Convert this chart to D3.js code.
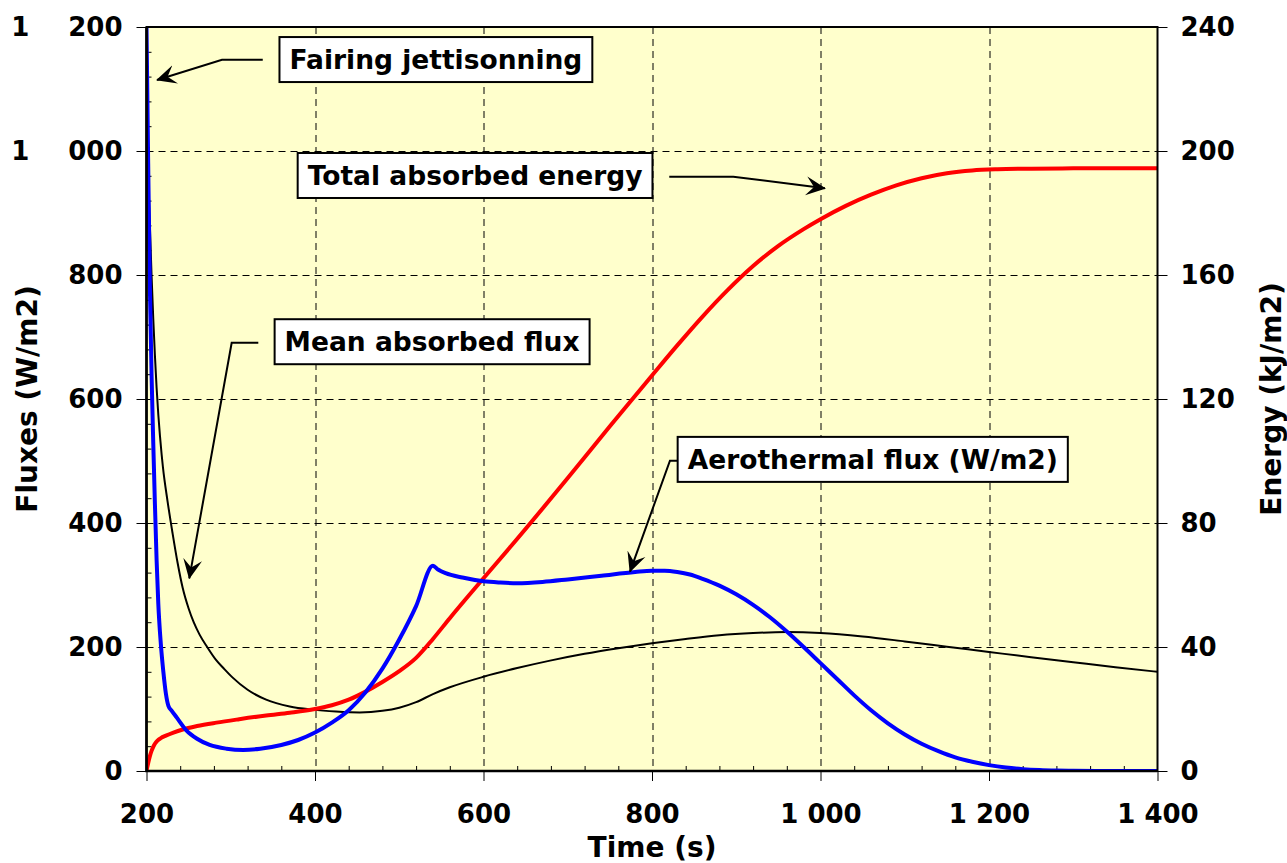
<!DOCTYPE html>
<html>
<head>
<meta charset="utf-8">
<script src="https://cdn.jsdelivr.net/npm/d3@7"></script>
<style>
  html, body { margin: 0; padding: 0; background: #ffffff; }
  svg { display: block; font-family: "DejaVu Sans", Verdana, sans-serif; font-weight: bold; }
</style>
</head>
<body>
<svg id="chart" width="1287" height="863"></svg>
<script>
// ---- series (time in s) ----
const aeroTime = [200, 202, 204, 206, 208, 210, 212, 214, 217, 220, 223, 226, 230, 236, 247, 260, 275, 295, 315, 335, 360, 380, 400, 420, 440, 460, 480, 500, 520, 540, 546, 555, 575, 600, 620, 640, 670, 700, 740, 780, 800, 815, 830, 845, 860, 880, 900, 920, 940, 960, 980, 1000, 1020, 1040, 1060, 1080, 1100, 1120, 1140, 1160, 1180, 1200, 1220, 1240, 1260, 1280, 1300, 1350, 1400];
const aeroFlux = [1200, 980, 780, 640, 530, 430, 340, 270, 205, 160, 125, 105, 97, 86, 66, 52, 42, 36, 34, 36, 42, 50, 62, 78, 98, 127, 165, 212, 266, 331, 325, 319, 312, 306, 304, 303, 305, 309, 315, 321, 323, 323, 321, 317, 310, 299, 285, 268, 248, 225, 200, 174, 148, 122, 98, 77, 59, 44, 32, 22, 15, 9.5, 5.5, 3, 1.5, 0.7, 0.3, 0.05, 0];

const meanTime = [200, 202, 204, 206, 208, 210, 212, 214, 216, 218, 219.5, 225, 231, 237, 243, 250, 256, 263, 272, 282, 292, 302, 320, 342, 370, 397, 425, 453, 480, 500, 520, 540, 560, 600, 640, 679, 720, 760, 800, 840, 880, 920, 960, 1000, 1050, 1100, 1150, 1200, 1250, 1300, 1350, 1400];
const meanFlux = [1060, 965, 880, 800, 730, 670, 618, 575, 540, 510, 490, 435, 383, 335, 295, 262, 240, 220, 200, 180, 165, 151, 131, 115, 104, 99, 96, 94.5, 97, 102, 111, 124, 135, 152, 166, 178, 189, 198, 206, 213, 219, 222.5, 224, 222.5, 217, 209, 200.5, 192, 183.5, 175.5, 167.5, 160];

const energyTime = [200, 202, 204, 206, 208, 210, 213, 217, 223, 232, 243, 260, 283, 310, 342, 370, 400, 420, 440, 460, 480, 500, 520, 540, 560, 580, 600, 631, 700, 750, 800, 830, 860, 890, 920, 950, 980, 1000, 1030, 1060, 1090, 1120, 1150, 1180, 1210, 1250, 1300, 1400];
const energyVal = [0, 2.6, 4.8, 6.5, 7.8, 8.8, 9.8, 10.6, 11.4, 12.4, 13.4, 14.5, 15.6, 16.7, 17.9, 18.8, 20, 21.2, 23, 25.6, 28.7, 32.2, 36.5, 42.6, 49.3, 55.8, 62.2, 72, 94.5, 111.2, 127.6, 137.3, 146.6, 155.2, 162.9, 169.4, 174.8, 178, 182.3, 185.9, 188.9, 191.2, 192.8, 193.7, 194.1, 194.3, 194.4, 194.4];

// ---- axes ----
const timeTicks = [200, 400, 600, 800, 1000, 1200, 1400];
const fluxTicks = [0, 200, 400, 600, 800, 1000, 1200];
const energyTicks = [0, 40, 80, 120, 160, 200, 240];
const timeMinor = d3.range(200, 1401, 40).filter(v => v % 200 !== 0);
const fluxMinor = d3.range(0, 1201, 40).filter(v => v % 200 !== 0);

// ---- text ----
const xTitle = "Time (s)";
const yLeftTitle = "Fluxes (W/m2)";
const yRightTitle = "Energy (kJ/m2)";

const svg = d3.select("#chart");
const W = 1287, H = 863;
const margin = { left: 146.5, right: 129.5, top: 27, bottom: 92 };
const width = W - margin.left - margin.right;
const height = H - margin.top - margin.bottom;

const x = d3.scaleLinear().domain([200, 1400]).range([0, width]);
const yL = d3.scaleLinear().domain([0, 1200]).range([height, 0]);
const yR = d3.scaleLinear().domain([0, 240]).range([height, 0]);

// thousands grouped with a space; the flux axis uses a wider gap
const fmt = d3.formatLocale({ decimal: ",", thousands: " ", grouping: [3], currency: ["", ""] }).format(",d");
const fmtWide = d3.formatLocale({ decimal: ",", thousands: "\u2003\u2002", grouping: [3], currency: ["", ""] }).format(",d");

const g = svg.append("g").attr("transform", `translate(${margin.left},${margin.top})`);

// arrow marker
const defs = svg.append("defs");
defs.append("marker")
  .attr("id", "arrowHead")
  .attr("markerUnits", "userSpaceOnUse")
  .attr("viewBox", "0 0 20 20")
  .attr("markerWidth", 20).attr("markerHeight", 20)
  .attr("refX", 19).attr("refY", 10)
  .attr("orient", "auto")
  .append("path")
  .attr("d", "M20,10 L0,0.5 L8,10 L0,19.5 Z")
  .attr("fill", "#000");

defs.append("clipPath").attr("id", "plotClip")
  .append("rect").attr("x", 0).attr("y", 0).attr("width", width).attr("height", height);

// plot background
g.append("rect").attr("width", width).attr("height", height).attr("fill", "#FFFFCC");

// grid
const grid = g.append("g").attr("stroke", "#000").attr("stroke-width", 1).attr("stroke-dasharray", "7,5");
grid.selectAll(".gx").data(timeTicks.slice(1, -1)).join("line")
  .attr("x1", d => Math.round(x(d)) + 0.5).attr("x2", d => Math.round(x(d)) + 0.5)
  .attr("y1", 0).attr("y2", height);
grid.selectAll(".gy").data(fluxTicks.slice(1, -1)).join("line")
  .attr("y1", d => Math.round(yL(d)) + 0.5).attr("y2", d => Math.round(yL(d)) + 0.5)
  .attr("x1", 0).attr("x2", width);

// minor ticks (inside)
g.append("g").call(d3.axisRight(yL).tickValues(fluxMinor).tickSize(5).tickFormat(""))
  .call(a => a.select(".domain").remove());
g.append("g").attr("transform", `translate(0,${height})`)
  .call(d3.axisTop(x).tickValues(timeMinor).tickSize(5).tickFormat(""))
  .call(a => a.select(".domain").remove());

// major axes
function styleAxis(a) {
  a.select(".domain").remove();
  a.attr("font-family", null).attr("font-size", null);
  a.selectAll("text").attr("font-size", 26).attr("font-weight", "bold").attr("fill", "#000")
    .style("white-space", "pre");
  a.selectAll("line").attr("stroke", "#000");
}
g.append("g")
  .call(d3.axisLeft(yL).tickValues(fluxTicks).tickSize(10).tickPadding(14).tickFormat(fmtWide))
  .call(styleAxis);
g.append("g").attr("transform", `translate(${width},0)`)
  .call(d3.axisRight(yR).tickValues(energyTicks).tickSize(10).tickPadding(13).tickFormat(fmt))
  .call(styleAxis);
g.append("g").attr("transform", `translate(0,${height})`)
  .call(d3.axisBottom(x).tickValues(timeTicks).tickSize(10).tickPadding(24).tickFormat(fmt))
  .call(styleAxis);

// series
const plot = g.append("g").attr("clip-path", "url(#plotClip)");
const fluxLine = d3.line().x(d => x(d[0])).y(d => yL(d[1])).curve(d3.curveMonotoneX);
const energyLine = d3.line().x(d => x(d[0])).y(d => yR(d[1])).curve(d3.curveMonotoneX);

plot.append("path").datum(d3.zip(meanTime, meanFlux))
  .attr("d", fluxLine).attr("fill", "none").attr("stroke", "#000").attr("stroke-width", 2);
plot.append("path").datum(d3.zip(energyTime, energyVal))
  .attr("d", energyLine).attr("fill", "none").attr("stroke", "#FF0000").attr("stroke-width", 4)
  .attr("stroke-linejoin", "round");
plot.append("path").datum(d3.zip(aeroTime, aeroFlux))
  .attr("d", fluxLine).attr("fill", "none").attr("stroke", "#0000FF").attr("stroke-width", 4)
  .attr("stroke-linejoin", "round");

// frame
g.append("rect").attr("width", width).attr("height", height)
  .attr("fill", "none").attr("stroke", "#000").attr("stroke-width", 2);
g.append("path").attr("d", `M0,0V${height}H${width}`)
  .attr("fill", "none").attr("stroke", "#000").attr("stroke-width", 2.6);

// callouts: box centre and leader path in (time, flux) units
const callouts = [
  { text: "Fairing jettisonning", at: [543.5, 1147.5], path: [[338, 1147], [289.6, 1147], [212.5, 1114.5]] },
  { text: "Total absorbed energy", at: [590, 960.5], path: [[820.5, 958.5], [896.5, 958.5], [1005.3, 939.8]] },
  { text: "Mean absorbed flux", at: [539, 692.4], path: [[332.7, 690.8], [301.1, 690.8], [250.8, 310.8]] },
  { text: "Aerothermal flux (W/m2)", at: [1062, 502.6], path: [[851, 500.5], [821.3, 500.5], [773.9, 321.5]] }
];
const notes = g.append("g");
callouts.forEach(c => {
  notes.append("path")
    .attr("d", d3.line()(c.path.map(p => [x(p[0]), yL(p[1])])))
    .attr("fill", "none").attr("stroke", "#000").attr("stroke-width", 2)
    .attr("marker-end", "url(#arrowHead)");
  const cg = notes.append("g").attr("transform", `translate(${x(c.at[0])},${yL(c.at[1])})`);
  const rect = cg.append("rect").attr("fill", "#fff").attr("stroke", "#000").attr("stroke-width", 2);
  const t = cg.append("text").text(c.text).attr("text-anchor", "middle")
    .attr("dy", "0.36em").attr("font-size", 26.5).attr("fill", "#000");
  const bb = t.node().getBBox();
  rect.attr("x", bb.x - 10).attr("width", bb.width + 20).attr("y", -22.5).attr("height", 45);
});

// axis titles
svg.append("text").text(xTitle)
  .attr("x", margin.left + width / 2).attr("y", 857)
  .attr("text-anchor", "middle").attr("font-size", 28).attr("fill", "#000");
svg.append("text").text(yLeftTitle)
  .attr("transform", `translate(37,${margin.top + height / 2}) rotate(-90)`)
  .attr("text-anchor", "middle").attr("font-size", 28).attr("fill", "#000");
svg.append("text").text(yRightTitle)
  .attr("transform", `translate(1281,${margin.top + height / 2}) rotate(-90)`)
  .attr("text-anchor", "middle").attr("font-size", 28).attr("fill", "#000");
</script>
</body>
</html>
